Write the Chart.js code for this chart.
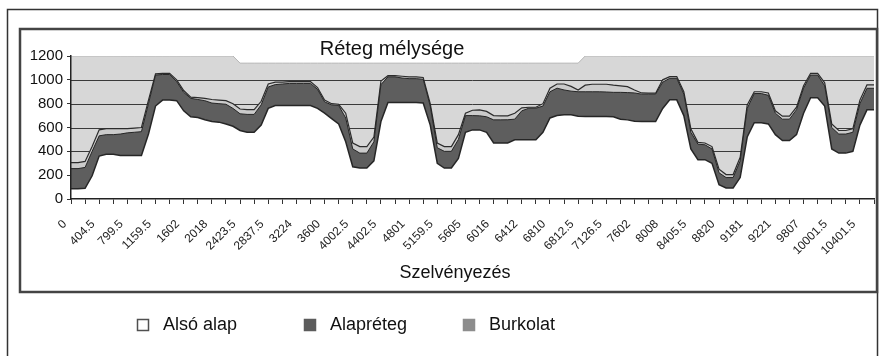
<!DOCTYPE html>
<html>
<head>
<meta charset="utf-8">
<title>Réteg mélysége</title>
<script src="https://cdn.jsdelivr.net/npm/chart.js@4.4.1/dist/chart.umd.min.js"></script>
<style>
  html, body { margin: 0; padding: 0; background: #fff; }
  canvas { display: block; }
</style>
</head>
<body>
<canvas id="chart" width="885" height="356"></canvas>
<script>
// chainage labels, one every 4th measuring point
const tickLabels = [
  '0', '404.5', '799.5', '1159.5', '1602', '2018', '2423.5', '2837.5', '3224', '3600',
  '4002.5', '4402.5', '4801', '5159.5', '5605', '6016', '6412', '6810', '6812.5', '7126.5',
  '7602', '8008', '8405.5', '8820', '9181', '9221', '9807', '10001.5', '10401.5'
];
const labelStep = 4;

// layer tops (mm) at each measuring point
const alsoAlap = [
  85, 85, 90, 195, 360, 375, 375, 365, 365, 365,
  365, 545, 780, 830, 830, 825, 740, 690, 683, 665,
  650, 645, 630, 610, 575, 560, 560, 620, 760, 785,
  785, 785, 785, 785, 785, 760, 720, 675, 630, 480,
  270, 260, 260, 320, 650, 810, 810, 810, 810, 810,
  805, 620, 300, 260, 260, 340, 560, 580, 580, 560,
  470, 470, 470, 497, 497, 497, 497, 560, 680, 700,
  706, 706, 695, 692, 692, 692, 692, 690, 670, 664,
  652, 650, 650, 650, 760, 832, 832, 700, 420, 330,
  330, 300, 120, 92, 92, 180, 520, 640, 640, 630,
  540, 490, 490, 540, 720, 850, 850, 780, 420, 385,
  385, 400, 620, 748, 748
];
const alapreteg = [
  255, 255, 265, 400, 530, 540, 540, 545, 555, 560,
  565, 800, 1040, 1045, 1045, 985, 895, 845, 835, 825,
  805, 800, 795, 760, 715, 710, 710, 790, 940, 960,
  965, 970, 970, 970, 970, 920, 815, 790, 785, 680,
  420, 385, 385, 480, 960, 1025, 1025, 1015, 1010, 1010,
  1005, 780, 430, 400, 400, 500, 700, 700, 698, 690,
  664, 664, 665, 670, 740, 762, 762, 780, 900, 930,
  915, 905, 900, 900, 900, 900, 898, 895, 895, 893,
  890, 880, 880, 880, 980, 1013, 1013, 880, 560, 460,
  455, 420, 220, 180, 180, 320, 760, 885, 885, 870,
  720, 670, 670, 750, 930, 1040, 1040, 950, 600, 545,
  545, 560, 800, 929, 929
];
const burkolat = [
  305, 305, 315, 440, 580, 590, 590, 590, 590, 595,
  600, 830, 1050, 1055, 1055, 1000, 910, 855, 850, 845,
  835, 830, 825, 800, 755, 750, 750, 820, 965, 980,
  980, 985, 985, 985, 985, 935, 830, 800, 795, 720,
  470, 440, 440, 520, 990, 1035, 1035, 1030, 1025, 1025,
  1020, 800, 470, 440, 440, 540, 720, 745, 748, 735,
  700, 698, 698, 720, 765, 770, 770, 800, 930, 965,
  965, 945, 915, 955, 963, 963, 963, 955, 950, 943,
  915, 890, 888, 888, 1000, 1027, 1027, 900, 590, 475,
  470, 440, 250, 205, 205, 350, 790, 900, 900, 890,
  740, 695, 695, 770, 950, 1055, 1055, 975, 630, 575,
  575, 590, 830, 957, 957
];
const surface = [
  1200, 1200, 1200, 1200, 1200, 1200, 1200, 1200, 1200, 1200,
  1200, 1200, 1200, 1200, 1200, 1200, 1200, 1200, 1200, 1200,
  1200, 1200, 1200, 1200, 1140, 1140, 1140, 1140, 1140, 1140,
  1140, 1140, 1140, 1140, 1140, 1140, 1140, 1140, 1140, 1140,
  1140, 1140, 1140, 1140, 1140, 1140, 1140, 1140, 1140, 1140,
  1140, 1140, 1140, 1140, 1140, 1140, 1140, 1140, 1140, 1140,
  1140, 1140, 1140, 1140, 1140, 1140, 1140, 1140, 1140, 1140,
  1140, 1140, 1140, 1200, 1200, 1200, 1200, 1200, 1200, 1200,
  1200, 1200, 1200, 1200, 1200, 1200, 1200, 1200, 1200, 1200,
  1200, 1200, 1200, 1200, 1200, 1200, 1200, 1200, 1200, 1200,
  1200, 1200, 1200, 1200, 1200, 1200, 1200, 1200, 1200, 1200,
  1200, 1200, 1200, 1200, 1200
];

const categories = alsoAlap.map((_, i) => i % labelStep === 0 ? (tickLabels[i / labelStep] || '') : '');

const legendFill = ['#ffffff', '#5c5c5c', '#8d8d8d'];
const legendStroke = ['#505050', '#5c5c5c', '#8d8d8d'];
const SURFACE_INDEX = 3;
const FONT = '"Liberation Sans", Arial, sans-serif';

Chart.defaults.font.family = FONT;
Chart.defaults.color = '#111';

// white page with the two box frames
const frames = {
  id: 'frames',
  beforeDraw(chart) {
    const {ctx} = chart;
    ctx.save();
    ctx.fillStyle = '#fff';
    ctx.fillRect(0, 0, chart.width, chart.height);
    ctx.strokeStyle = '#333';
    ctx.lineWidth = 1.5;
    ctx.strokeRect(7.5, 9.5, 870, 360);
    ctx.strokeStyle = '#444';
    ctx.lineWidth = 2.5;
    ctx.strokeRect(20, 29, 857, 263);
    ctx.restore();
  }
};

// horizontal gridlines sit on top of the grey surface but under the layers
const surfaceGrid = {
  id: 'surfaceGrid',
  afterDatasetDraw(chart, args) {
    if (args.index !== SURFACE_INDEX) return;
    const {ctx, chartArea, scales: {y}} = chart;
    ctx.save();
    ctx.strokeStyle = '#3a3a3a';
    ctx.lineWidth = 1;
    y.ticks.forEach(t => {
      if (t.value <= y.min || t.value >= y.max) return;
      const py = Math.round(y.getPixelForValue(t.value)) + 0.5;
      ctx.beginPath();
      ctx.moveTo(chartArea.left, py);
      ctx.lineTo(chartArea.right, py);
      ctx.stroke();
    });
    ctx.restore();
  }
};

// title, axis title and the legend row under the inner frame
const chartText = {
  id: 'chartText',
  afterDraw(chart) {
    const {ctx} = chart;
    ctx.save();
    ctx.fillStyle = '#111';
    ctx.textBaseline = 'middle';
    ctx.textAlign = 'center';
    ctx.font = '20px ' + FONT;
    ctx.fillText('Réteg mélysége', 392, 49);
    ctx.font = '18px ' + FONT;
    ctx.fillText('Szelvényezés', 455, 273);

    const legendX = [137, 304, 463];
    const legendY = 325;
    ctx.textAlign = 'left';
    chart.data.datasets.slice(0, 3).forEach((ds, i) => {
      const x = legendX[i];
      ctx.fillStyle = legendFill[i];
      ctx.fillRect(x, legendY - 6, 12, 12);
      ctx.strokeStyle = legendStroke[i];
      ctx.lineWidth = 1.5;
      ctx.strokeRect(x + 0.5, legendY - 5.5, 11, 11);
      ctx.fillStyle = '#111';
      ctx.fillText(ds.label, x + 26, legendY);
    });
    ctx.restore();
  }
};

const layer = (label, data, fill, stroke, width) => ({
  label,
  data,
  backgroundColor: fill,
  borderColor: stroke,
  borderWidth: width,
  fill: 'origin',
  pointRadius: 0,
  tension: 0
});

new Chart(document.getElementById('chart'), {
  type: 'line',
  data: {
    labels: categories,
    datasets: [
      layer('Alsó alap', alsoAlap, '#ffffff', '#262626', 1.5),
      layer('Alapréteg', alapreteg, '#5e5e5e', '#262626', 1),
      layer('Burkolat', burkolat, '#cbcbcb', '#2c2c2c', 1.2),
      layer('', surface, '#d7d7d7', '#b5b5b5', 1)
    ]
  },
  options: {
    responsive: false,
    animation: false,
    devicePixelRatio: 1,
    layout: { padding: { left: 0, right: 11, top: 56, bottom: 73 } },
    plugins: {
      legend: { display: false },
      title: { display: false },
      tooltip: { enabled: false }
    },
    scales: {
      x: {
        offset: false,
        grid: {
          drawOnChartArea: false,
          tickLength: 5,
          color: ctx => ctx.index % 2 === 0 ? '#333' : 'rgba(0,0,0,0)'
        },
        border: { display: true, color: '#222', width: 1.5, z: 1 },
        ticks: {
          autoSkip: false,
          maxRotation: 45,
          minRotation: 45,
          padding: 13,
          labelOffset: -6,
          color: '#222',
          font: { size: 12 }
        },
        afterFit: scale => {
          scale.height = 84;
          // the last category has no label, so no extra room is needed at the right
          scale.paddingLeft = 0;
          scale.paddingRight = 0;
        }
      },
      y: {
        min: 0,
        max: 1200,
        grid: { drawOnChartArea: false, tickLength: 4, color: '#333' },
        border: { display: true, color: '#222', width: 1.5, z: 1 },
        ticks: {
          stepSize: 200,
          padding: 4,
          color: '#111',
          font: { size: 15 },
          callback: value => String(value)
        },
        afterFit: scale => { scale.width = 71; }
      }
    }
  },
  plugins: [frames, surfaceGrid, chartText]
});
</script>
</body>
</html>
